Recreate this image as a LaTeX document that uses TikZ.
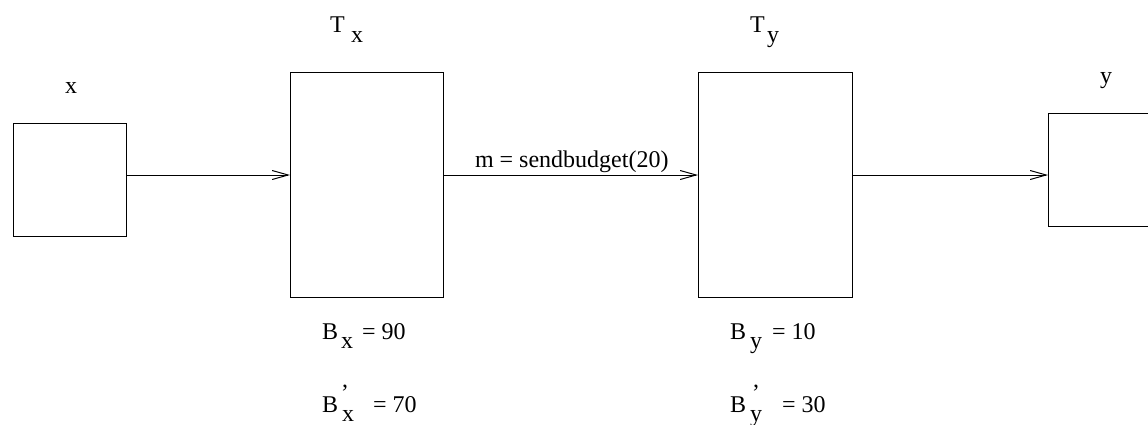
\documentclass[tikz,border=0pt]{standalone}
\usepackage{fontspec}
\setmainfont{Liberation Serif}
\usetikzlibrary{arrows.meta}
\begin{document}
\begin{tikzpicture}[x=1pt,y=-1pt,
  box/.style={draw=black,line width=1pt,inner sep=0pt,outer sep=0pt},
  arr/.style={draw=black,line width=1pt,-{Straight Barb[length=16pt,width=9pt,line width=1pt]}},
  txt/.style={anchor=base west,inner sep=0pt,outer sep=0pt,font=\fontsize{24}{28}\selectfont}]
\useasboundingbox (0,0) rectangle (1148,424);
\clip (0,0) rectangle (1148,424);
\fill[white] (0,0) rectangle (1148,424);
% boxes
\node[box,minimum width=113pt,minimum height=113pt] (x) at (69.5,179.5) {};
\node[box,minimum width=153pt,minimum height=225pt] (Tx) at (366.5,184.5) {};
\node[box,minimum width=154pt,minimum height=225pt] (Ty) at (775,184.5) {};
\node[box,minimum width=113pt,minimum height=113pt] (y) at (1104.5,169.5) {};
% arrows
\draw[arr] ([yshift=4.5pt]x.east) coordinate (s1) -- (s1 -| Tx.west);
\draw[arr] ([yshift=9.5pt]Tx.east) coordinate (s2) -- (s2 -| Ty.west);
\draw[arr] ([yshift=9.5pt]Ty.east) coordinate (s3) -- (s3 -| y.west);
% labels
\node[txt] (lx) at (65,93) {x};
\node[txt] (lTx) at (330,32) {T};
\node[txt] (lTxs) at (351,42) {x};
\node[txt] (lTy) at (750,32) {T};
\node[txt] (lTys) at (767,42) {y};
\node[txt] (ly) at (1100,83) {y};
\node[txt] (lm) at (475,167) {m = sendbudget(20)};
% budgets x
\node[txt] (bx1) at (322,339) {B};
\node[txt] (bx1s) at (341,348) {x};
\node[txt] (bx1v) at (362,339) {= 90};
\node[txt] (bx2) at (322,412) {B};
\node[txt] (bx2c) at (342,387) {,};
\node[txt] (bx2s) at (342,421) {x};
\node[txt] (bx2v) at (373,412) {= 70};
% budgets y
\node[txt] (by1) at (730,339) {B};
\node[txt] (by1s) at (750,348) {y};
\node[txt] (by1v) at (772,339) {= 10};
\node[txt] (by2) at (730,412) {B};
\node[txt] (by2c) at (753,387) {,};
\node[txt] (by2s) at (750,421) {y};
\node[txt] (by2v) at (782,412) {= 30};
\end{tikzpicture}
\end{document}
